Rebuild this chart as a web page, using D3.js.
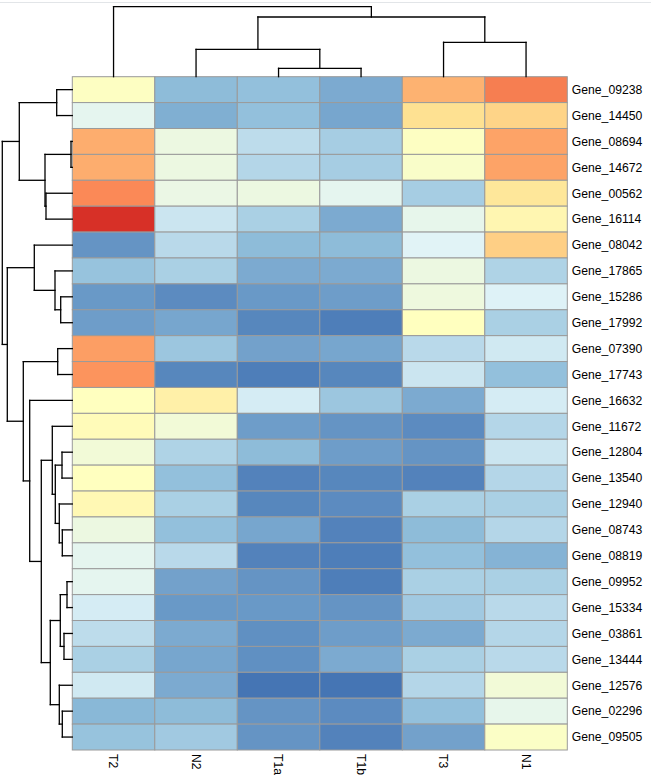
<!DOCTYPE html>
<html>
<head>
<meta charset="utf-8">
<script src="https://cdn.jsdelivr.net/npm/d3@7"></script>
<style>
  html, body { margin: 0; padding: 0; background: #ffffff; }
  svg { display: block; }
  text { font-family: "Liberation Sans", Arial, sans-serif; fill: #000; }
</style>
</head>
<body>
<svg id="chart" width="651" height="781"></svg>
<script>
// ---------------- data ----------------
const columns = ["T2", "N2", "T1a", "T1b", "T3", "N1"];
const genes = [
  "Gene_09238", "Gene_14450", "Gene_08694", "Gene_14672", "Gene_00562",
  "Gene_16114", "Gene_08042", "Gene_17865", "Gene_15286", "Gene_17992",
  "Gene_07390", "Gene_17743", "Gene_16632", "Gene_11672", "Gene_12804",
  "Gene_13540", "Gene_12940", "Gene_08743", "Gene_08819", "Gene_09952",
  "Gene_15334", "Gene_03861", "Gene_13444", "Gene_12576", "Gene_02296",
  "Gene_09505"
];
// scaled expression (0 = lowest / blue, 1 = highest / red), columns in the order above
const values = [
  [0.49, 0.16, 0.17, 0.12, 0.76, 0.86],
  [0.36, 0.13, 0.17, 0.11, 0.66, 0.69],
  [0.77, 0.40, 0.26, 0.21, 0.49, 0.79],
  [0.77, 0.40, 0.24, 0.21, 0.47, 0.79],
  [0.84, 0.39, 0.40, 0.36, 0.21, 0.63],
  [1.00, 0.29, 0.22, 0.12, 0.37, 0.55],
  [0.07, 0.25, 0.16, 0.16, 0.34, 0.70],
  [0.18, 0.22, 0.12, 0.12, 0.40, 0.23],
  [0.08, 0.05, 0.08, 0.09, 0.41, 0.33],
  [0.09, 0.11, 0.04, 0.02, 0.50, 0.22],
  [0.80, 0.19, 0.10, 0.11, 0.25, 0.30],
  [0.82, 0.04, 0.02, 0.04, 0.29, 0.17],
  [0.50, 0.58, 0.31, 0.19, 0.12, 0.31],
  [0.52, 0.43, 0.09, 0.07, 0.05, 0.24],
  [0.43, 0.23, 0.16, 0.09, 0.07, 0.29],
  [0.50, 0.17, 0.03, 0.04, 0.03, 0.24],
  [0.54, 0.22, 0.04, 0.05, 0.22, 0.22],
  [0.40, 0.17, 0.11, 0.03, 0.16, 0.24],
  [0.36, 0.25, 0.03, 0.02, 0.17, 0.14],
  [0.36, 0.10, 0.07, 0.02, 0.22, 0.22],
  [0.31, 0.08, 0.08, 0.07, 0.20, 0.25],
  [0.26, 0.12, 0.06, 0.09, 0.12, 0.24],
  [0.22, 0.11, 0.06, 0.12, 0.22, 0.25],
  [0.30, 0.12, 0.00, 0.00, 0.24, 0.43],
  [0.15, 0.16, 0.07, 0.05, 0.17, 0.37],
  [0.18, 0.20, 0.07, 0.03, 0.10, 0.48]
];
// palette: rev(RdYlBu, 7)
const palette = ["#4575B4", "#91BFDB", "#E0F3F8", "#FFFFBF", "#FEE090", "#FC8D59", "#D73027"];

// hclust-style merges: negative = leaf (1-based index in display order), positive = earlier merge
const rowMerge = [
  [-3, -4], [-20, -21], [-22, -23], [-18, -19], [-25, -26],
  [-15, -16], [-9, -10], [2, 3], [-17, 4], [-24, 5],
  [-11, -12], [-1, -2], [6, 9], [-8, 7], [-14, 13],
  [8, 10], [-5, -6], [1, 17], [15, 16], [-7, 14],
  [-13, 19], [11, 21], [12, 18], [20, 22], [23, 24]
];
const rowHeight = [
  1.3, 5.3, 8.3, 10.0, 10.0,
  10.3, 11.6, 12.0, 13.0, 13.0,
  14.6, 15.6, 17.0, 17.3, 20.0,
  22.0, 26.3, 27.3, 31.0, 38.0,
  42.6, 49.0, 53.0, 65.0, 70.0
];
const colMerge = [[-3, -4], [-2, 1], [-5, -6], [2, 3], [-1, 4]];
const colHeight = [8.4, 27.4, 34.4, 59.7, 70.0];

// ---------------- layout ----------------
const hm = { left: 72.3, right: 567.3, top: 76.7, bottom: 750 };
const svg = d3.select("#chart");

// faint top rule
svg.append("line")
  .attr("x1", 0).attr("x2", 651).attr("y1", 2.5).attr("y2", 2.5)
  .attr("stroke", "#e2e5e8").attr("stroke-width", 1);

const x = d3.scaleBand().domain(columns).range([hm.left, hm.right]).paddingInner(0).paddingOuter(0);
const y = d3.scaleBand().domain(genes).range([hm.top, hm.bottom]).paddingInner(0).paddingOuter(0);
const color = d3.scaleLinear()
  .domain(palette.map((_, i) => i / (palette.length - 1)))
  .range(palette)
  .interpolate(d3.interpolateRgb);

// cells
const cells = [];
genes.forEach((g, i) => columns.forEach((c, j) => cells.push({ g, c, v: values[i][j] })));
svg.append("g").selectAll("rect").data(cells).join("rect")
  .attr("x", d => x(d.c))
  .attr("y", d => y(d.g))
  .attr("width", x.bandwidth())
  .attr("height", y.bandwidth())
  .attr("fill", d => color(d.v))
  .attr("stroke", "#9a9a9a")
  .attr("stroke-width", 1);

// row labels
svg.append("g").selectAll("text").data(genes).join("text")
  .attr("x", hm.right + 4.5)
  .attr("y", d => y(d) + y.bandwidth() / 2)
  .attr("dy", "0.35em")
  .attr("font-size", "12.2px")
  .text(d => d);

// column labels (rotated, reading downwards)
svg.append("g").selectAll("text").data(columns).join("text")
  .attr("transform", d => `translate(${x(d) + x.bandwidth() / 2},${hm.bottom + 4}) rotate(90)`)
  .attr("dy", "0.35em")
  .attr("text-anchor", "start")
  .attr("font-size", "12.2px")
  .text(d => d);

// dendrogram helper
function dendroSegments(merge, heights, leafPos) {
  const pos = [], hts = [];
  const segs = [];
  const get = idx => idx < 0 ? { p: leafPos[-idx - 1], h: 0 } : { p: pos[idx - 1], h: hts[idx - 1] };
  merge.forEach((m, k) => {
    const a = get(m[0]), b = get(m[1]), h = heights[k];
    segs.push({ h1: a.h, h2: h, p1: a.p, p2: a.p });   // from left child up to merge
    segs.push({ h1: b.h, h2: h, p1: b.p, p2: b.p });   // from right child up to merge
    segs.push({ h1: h, h2: h, p1: a.p, p2: b.p });     // connecting bar
    pos.push((a.p + b.p) / 2);
    hts.push(h);
  });
  return segs;
}

// row dendrogram (left)
const rowH = d3.scaleLinear().domain([0, d3.max(rowHeight)]).range([hm.left, 2.3]);
const rowSegs = dendroSegments(rowMerge, rowHeight, genes.map(g => y(g) + y.bandwidth() / 2));
svg.append("g").selectAll("line").data(rowSegs).join("line")
  .attr("x1", d => rowH(d.h1)).attr("x2", d => rowH(d.h2))
  .attr("y1", d => d.p1).attr("y2", d => d.p2)
  .attr("stroke", "#000").attr("stroke-width", 1.3).attr("stroke-linecap", "square");

// column dendrogram (top)
const colH = d3.scaleLinear().domain([0, d3.max(colHeight)]).range([hm.top, 6.7]);
const colSegs = dendroSegments(colMerge, colHeight, columns.map(c => x(c) + x.bandwidth() / 2));
svg.append("g").selectAll("line").data(colSegs).join("line")
  .attr("y1", d => colH(d.h1)).attr("y2", d => colH(d.h2))
  .attr("x1", d => d.p1).attr("x2", d => d.p2)
  .attr("stroke", "#000").attr("stroke-width", 1.3).attr("stroke-linecap", "square");
</script>
</body>
</html>
